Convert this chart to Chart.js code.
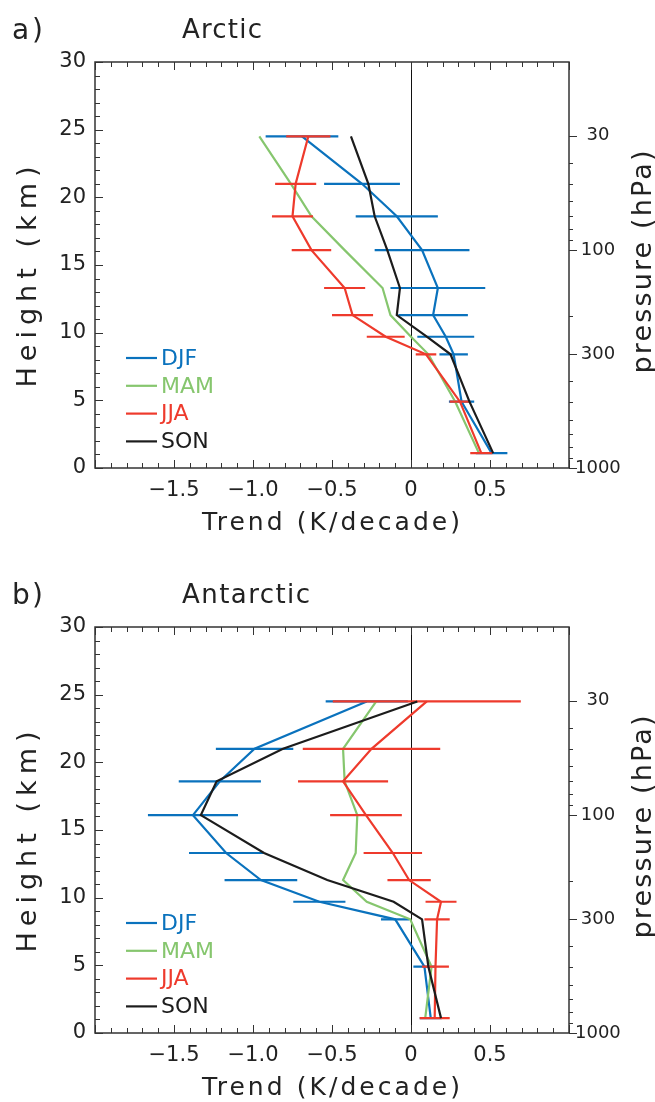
<!DOCTYPE html>
<html>
<head>
<meta charset="utf-8">
<script src="https://cdn.jsdelivr.net/npm/chart.js@4.4.1/dist/chart.umd.min.js"></script>
<style>
  html, body { margin: 0; padding: 0; background: #fff; overflow: hidden; }
  .panel { position: absolute; left: 0; width: 655px; height: 537px; }
  #arctic-panel { top: 0; }
  #antarctic-panel { top: 565px; }
</style>
</head>
<body>
<div class="panel" id="arctic-panel"><canvas id="arctic-chart" width="655" height="537"></canvas></div>
<div class="panel" id="antarctic-panel"><canvas id="antarctic-chart" width="655" height="537"></canvas></div>
<script>
// heights (km) of the 850,500,300,250,200,150,100,70,50,30 hPa levels, bottom to top
const levelHeights = [1.1, 4.9, 8.4, 9.7, 11.3, 13.3, 16.1, 18.6, 21.0, 24.5];

// a) Arctic trends (K/decade)
const arcticDJF    = [0.51, 0.32, 0.27, 0.22, 0.14, 0.17, 0.07, -0.09, -0.31, -0.69];
const arcticDJFErr = [0.10, 0.08, 0.09, 0.18, 0.22, 0.30, 0.30, 0.26, 0.24, 0.23];
const arcticMAM    = [0.43, 0.28, 0.11, 0.00, -0.13, -0.18, -0.42, -0.63, -0.76, -0.96];
const arcticJJA    = [0.445, 0.31, 0.095, -0.16, -0.37, -0.42, -0.63, -0.75, -0.73, -0.65];
const arcticJJAErr = [0.07, 0.065, 0.065, 0.12, 0.13, 0.13, 0.125, 0.13, 0.13, 0.14];
const arcticSON    = [0.52, 0.37, 0.25, 0.10, -0.09, -0.07, -0.15, -0.23, -0.27, -0.38];

// b) Antarctic trends (K/decade)
const antarcticDJF    = [0.125, 0.085, -0.10, -0.58, -0.95, -1.17, -1.38, -1.21, -0.99, -0.28];
const antarcticDJFErr = [0.07, 0.07, 0.09, 0.165, 0.23, 0.235, 0.285, 0.26, 0.245, 0.26];
const antarcticMAM    = [0.09, 0.13, -0.005, -0.28, -0.43, -0.35, -0.34, -0.42, -0.43, -0.22];
const antarcticJJA    = [0.15, 0.155, 0.165, 0.19, -0.012, -0.115, -0.285, -0.43, -0.25, 0.10];
const antarcticJJAErr = [0.095, 0.085, 0.08, 0.098, 0.137, 0.185, 0.227, 0.285, 0.435, 0.595];
const antarcticSON    = [0.19, 0.11, 0.07, -0.11, -0.53, -0.93, -1.33, -1.23, -0.81, 0.04];

const seasons = ['DJF', 'MAM', 'JJA', 'SON'];
const xTickValues = [-1.5, -1.0, -0.5, 0, 0.5];
const xTickLabels = ['\u22121.5', '\u22121.0', '\u22120.5', '0', '0.5'];
const pressureTicks = [30, 40, 50, 60, 70, 80, 90, 100, 200, 300, 400, 500, 600, 700, 800, 900, 1000];
const pressureLabels = [30, 100, 300, 1000];

const colours = {DJF: '#0a72bd', MAM: '#86c66e', JJA: '#ee3a2c', SON: '#1c1c1c'};
const textColour = '#222';
const fontFamily = '"DejaVu Sans", sans-serif';

// scale height of 7 km for the pressure axis
const pressureHeight = (p) => 7 * Math.log(1000 / p);

const profile = (label, values, order) => ({
    label: label,
    data: values.map((v, i) => ({x: v, y: levelHeights[i]})),
    borderColor: colours[label],
    borderWidth: 2.2,
    pointRadius: 0,
    order: order,
    inLegend: true
});

const errorBars = (label, values, errors, order) => {
    const points = [];
    values.forEach((v, i) => {
        points.push({x: v - errors[i], y: levelHeights[i]});
        points.push({x: v + errors[i], y: levelHeights[i]});
        points.push({x: null, y: null});
    });
    return {
        label: label + ' range',
        data: points,
        borderColor: colours[label],
        borderWidth: 2.2,
        pointRadius: 0,
        spanGaps: false,
        order: order,
        inLegend: false
    };
};

const spacedText = (ctx, text, x, y, width, align) => {
    ctx.letterSpacing = '0px';
    const plain = ctx.measureText(text).width;
    const spacing = (width - plain) / (text.length - 1);
    ctx.letterSpacing = `${spacing}px`;
    const w = ctx.measureText(text).width - spacing;
    let sx = x;
    if (align === 'center') sx = x - w / 2;
    ctx.textAlign = 'left';
    ctx.fillText(text, sx, y);
    ctx.letterSpacing = '0px';
};

const panelDecor = {
    id: 'panelDecor',
    beforeDatasetsDraw(chart) {
        const {ctx, chartArea, scales} = chart;
        const x0 = Math.round(scales.x.getPixelForValue(0)) + 0.5;
        ctx.save();
        ctx.strokeStyle = '#111';
        ctx.lineWidth = 1;
        ctx.beginPath();
        ctx.moveTo(x0, chartArea.top);
        ctx.lineTo(x0, chartArea.bottom);
        ctx.stroke();
        ctx.restore();
    },
    afterDraw(chart, args, opts) {
        const {ctx, chartArea: {left, right, top, bottom}, scales} = chart;
        ctx.save();

        // frame and tick marks
        ctx.strokeStyle = '#333';
        ctx.lineWidth = 1.5;
        ctx.strokeRect(left, top, right - left, bottom - top);
        ctx.lineWidth = 1;
        ctx.beginPath();
        for (let i = -20; i <= 10; i++) {
            const px = Math.round(scales.x.getPixelForValue(i / 10)) + 0.5;
            const len = i % 5 === 0 ? 8 : 5;
            ctx.moveTo(px, bottom); ctx.lineTo(px, bottom - len);
            ctx.moveTo(px, top); ctx.lineTo(px, top + len);
        }
        for (let km = 0; km <= 30; km++) {
            const py = Math.round(scales.y.getPixelForValue(km)) + 0.5;
            const len = km % 5 === 0 ? 8 : 5;
            ctx.moveTo(left, py); ctx.lineTo(left + len, py);
        }
        pressureTicks.forEach((p) => {
            const py = Math.round(scales.y2.getPixelForValue(pressureHeight(p))) + 0.5;
            const len = pressureLabels.includes(p) ? 8 : 4;
            ctx.moveTo(right, py); ctx.lineTo(right + len, py);
        });
        ctx.stroke();

        // legend
        ctx.textBaseline = 'middle';
        ctx.font = `22px ${fontFamily}`;
        chart.data.datasets.filter((ds) => ds.inLegend).forEach((ds, i) => {
            const rowY = top + 296 + i * 27.8;
            ctx.strokeStyle = ds.borderColor;
            ctx.lineWidth = 2.2;
            ctx.beginPath();
            ctx.moveTo(126, rowY); ctx.lineTo(157, rowY);
            ctx.stroke();
            ctx.fillStyle = ds.borderColor;
            ctx.textAlign = 'left';
            ctx.fillText(ds.label, 161, rowY + 1);
        });

        // panel tag and title
        ctx.fillStyle = textColour;
        ctx.textBaseline = 'alphabetic';
        ctx.font = `28px ${fontFamily}`;
        spacedText(ctx, opts.tag, 12, top - 23, 31, 'left');
        ctx.font = `26px ${fontFamily}`;
        spacedText(ctx, opts.title, 182, top - 24.5, opts.titleWidth, 'left');

        // axis titles
        ctx.font = `25px ${fontFamily}`;
        spacedText(ctx, 'Trend (K/decade)', 331, bottom + 62, 258, 'center');
        ctx.font = `27px ${fontFamily}`;
        ctx.textBaseline = 'middle';
        ctx.save();
        ctx.translate(29, top + 215);
        ctx.rotate(-Math.PI / 2);
        spacedText(ctx, 'Height (km)', 0, 0, 221, 'center');
        ctx.restore();
        ctx.save();
        ctx.translate(644, top + 200);
        ctx.rotate(-Math.PI / 2);
        spacedText(ctx, 'pressure (hPa)', 0, 0, 223, 'center');
        ctx.restore();

        ctx.restore();
    }
};

const makeChart = (canvasId, tag, title, titleWidth, djf, djfErr, mam, jja, jjaErr, son) => {
    const ctx = document.querySelector(`#${canvasId}`).getContext('2d');
    const config = {
        type: 'line',
        data: {
            datasets: [
                profile('DJF', djf, 4),
                profile('MAM', mam, 3),
                profile('JJA', jja, 2),
                profile('SON', son, 1),
                errorBars('DJF', djf, djfErr, 4),
                errorBars('JJA', jja, jjaErr, 2)
            ]
        },
        options: {
            responsive: false,
            devicePixelRatio: 1,
            animation: false,
            events: [],
            layout: {padding: {top: 62, left: 0, right: 0, bottom: 0}},
            plugins: {
                legend: {display: false},
                tooltip: {enabled: false},
                panelDecor: {tag: tag, title: title, titleWidth: titleWidth}
            },
            scales: {
                x: {
                    type: 'linear',
                    min: -2,
                    max: 1,
                    afterFit: (scale) => { scale.height = 69; },
                    afterBuildTicks: (scale) => {
                        scale.ticks = xTickValues.map((v) => ({value: v}));
                    },
                    grid: {display: false, drawTicks: false},
                    border: {display: false},
                    ticks: {
                        autoSkip: false,
                        maxRotation: 0,
                        padding: 10,
                        color: textColour,
                        font: {family: fontFamily, size: 21},
                        callback: (value, index) => xTickLabels[index]
                    }
                },
                y: {
                    type: 'linear',
                    position: 'left',
                    min: 0,
                    max: 30,
                    afterFit: (scale) => { scale.width = 95; },
                    grid: {display: false, drawTicks: false},
                    border: {display: false},
                    ticks: {
                        stepSize: 5,
                        autoSkip: false,
                        padding: 9,
                        color: textColour,
                        font: {family: fontFamily, size: 21}
                    }
                },
                y2: {
                    type: 'linear',
                    position: 'right',
                    min: 0,
                    max: 30,
                    afterFit: (scale) => { scale.width = 86; },
                    afterBuildTicks: (scale) => {
                        scale.ticks = pressureLabels.map((p) => ({value: pressureHeight(p), pressure: p}))
                            .sort((a, b) => a.value - b.value);
                    },
                    grid: {display: false, drawTicks: false},
                    border: {display: false},
                    ticks: {
                        autoSkip: false,
                        padding: 6,
                        crossAlign: 'center',
                        color: textColour,
                        font: {family: fontFamily, size: 18},
                        callback: (value, index, ticks) => String(ticks[index].pressure)
                    }
                }
            }
        },
        plugins: [panelDecor]
    };
    return new Chart(ctx, config);
};

makeChart('arctic-chart', 'a)', 'Arctic', 80,
    arcticDJF, arcticDJFErr, arcticMAM, arcticJJA, arcticJJAErr, arcticSON);
makeChart('antarctic-chart', 'b)', 'Antarctic', 128,
    antarcticDJF, antarcticDJFErr, antarcticMAM, antarcticJJA, antarcticJJAErr, antarcticSON);
</script>
</body>
</html>
